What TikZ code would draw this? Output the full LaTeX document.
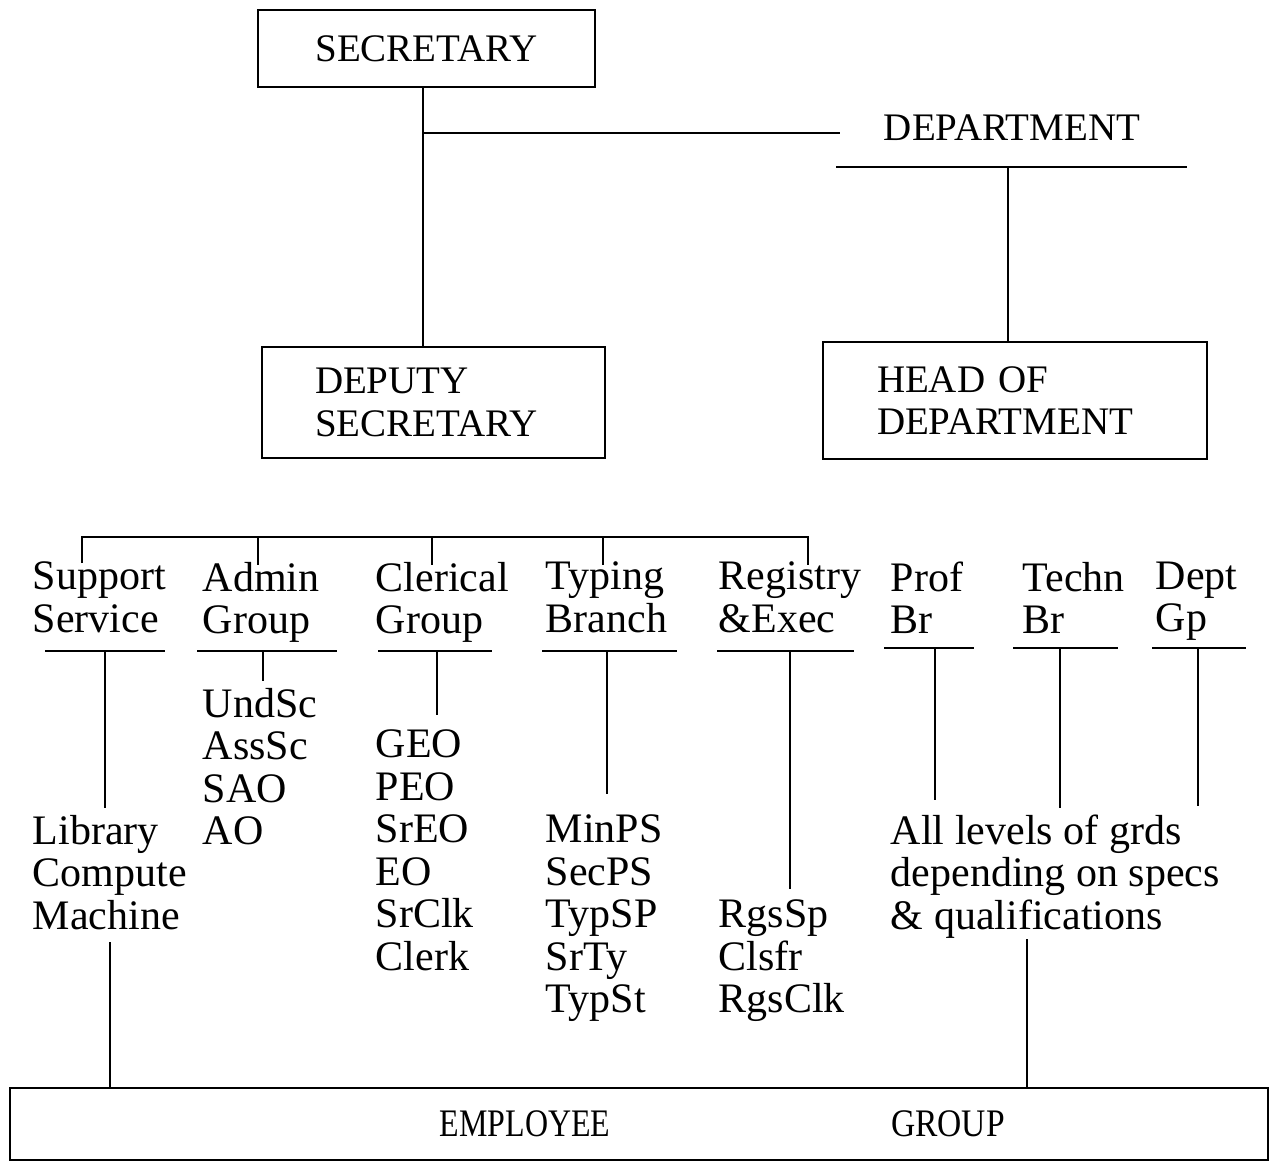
\documentclass[tikz,border=0pt]{standalone}
\usepackage{fontspec}
\setmainfont{Liberation Serif}
\usepackage{graphicx}
\tikzset{
	box/.style={draw, line width=1pt, font=\fontsize{19.5}{21.25}\selectfont},
	txt/.style={anchor=north west, inner sep=0pt, align=left, font=\fontsize{21}{21.25}\selectfont},
}
\begin{document}
\begin{tikzpicture}[x=0.5pt,y=-0.5pt,line width=0.9pt]
			\useasboundingbox (0,0) rectangle (1275,1163);
			% upper part
			\node[box, minimum width=168.5pt, minimum height=38.5pt] (sec) at (426.5,48.5) {SECRETARY};
			\node[box, minimum height=55.5pt, align=left, inner xsep=26.5pt, text width=118.5pt] (dep) at (433.5,402.5) {DEPUTY\\SECRETARY};
			\node[box, minimum height=58.5pt, align=left, inner xsep=27pt, text width=138pt] (hod) at (1015,400.5) {HEAD OF\\DEPARTMENT};
			\node[font=\fontsize{19.5}{21.25}\selectfont] (dept) at (1012,128) {DEPARTMENT};
			\coordinate (stem) at (423,133);
			\coordinate (dbar) at (1008,167);
			\draw (sec.south -| stem) -- (dep.north -| stem);
			\draw (stem) -- ([xshift=-18pt]stem -| dept.west);
			\draw (836,167) -- (1187,167);
			\draw (dbar) -- (hod.north -| dbar);
			% branches
			\draw (82,563) |- (808,537) -- (808,565);
			\foreach \x in {258,432,603} \draw (\x,537) -- (\x,565);
			\foreach \n/\x/\t in {sup/32/{Support\\Service}, adm/202/{Admin\\Group}, cle/375/{Clerical\\Group},
				typ/545/{Typing\\Branch}, reg/718/{Registry\\\&Exec}, prof/890/{Prof\\Br}, tec/1022/{Techn\\Br}, dgp/1155/{Dept\\Gp}}
				\node[txt] (\n) at (\x,561) {\t};
			\foreach \a/\b/\y in {45/165/651, 197/337/651, 378/492/651, 542/677/651, 717/854/651,
				884/974/648, 1013/1118/648, 1152/1246/648}
				\draw (\a,\y) -- (\b,\y);
			% grades
			\node[txt] (supl) at (32,814) {Library\\Compute\\Machine};
			\node[txt] (adml) at (202,687) {UndSc\\AssSc\\SAO\\AO};
			\node[txt] (clel) at (375,729) {GEO\\PEO\\SrEO\\EO\\SrClk\\Clerk};
			\node[txt] (typl) at (545,814) {MinPS\\SecPS\\TypSP\\SrTy\\TypSt};
			\node[txt] (regl) at (718,899) {RgsSp\\Clsfr\\RgsClk};
			\node[txt] (alll) at (890,814) {All levels of grds\\depending on specs\\\& qualifications};
			\foreach \x/\y/\l/\g in {105/651/supl/3, 263/651/adml/3, 437/651/clel/7, 607/651/typl/10,
				790/651/regl/5, 935/648/alll/7, 1060/648/alll/3, 1198/648/alll/4}
				{\coordinate (u) at (\x,\y);
				\draw[shorten >=\g pt] (u) -- (\l.north -| u);}
			% bottom
			\node[box, minimum width=629pt, minimum height=36pt] (emp) at (639,1124) {};
			\node[font=\fontsize{19.5}{21.25}\selectfont] (empa) at (525,1124) {\scalebox{0.82}[1]{EMPLOYEE}};
			\node[font=\fontsize{19.5}{21.25}\selectfont] (empb) at (948,1124) {\scalebox{0.86}[1]{GROUP}};
			\draw ([yshift=-6pt]supl.south) -- (emp.north -| supl.south);
			\draw ([xshift=-14pt]alll.south) -- ([xshift=-14pt]alll.south |- emp.north);
		\end{tikzpicture}
\end{document}
